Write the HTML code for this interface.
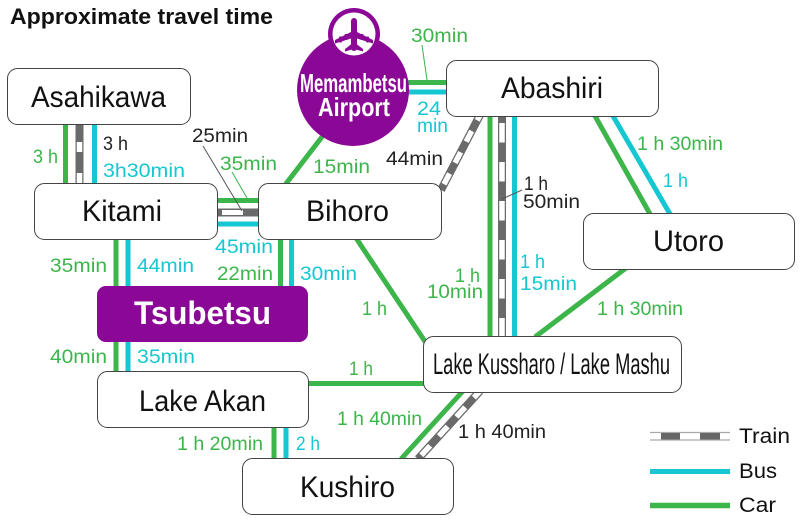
<!DOCTYPE html>
<html><head><meta charset="utf-8"><style>
html,body{margin:0;padding:0;background:#fff;}
svg{display:block;}
text{font-family:"Liberation Sans","DejaVu Sans",sans-serif;}
.l{font-size:19px;}
.g{fill:#3cb54a;}
.c{fill:#14c7d0;}
.k{fill:#222;}
.n{font-size:30px;fill:#111;}
</style></head><body>
<svg width="800" height="520" viewBox="0 0 800 520" xmlns="http://www.w3.org/2000/svg">
<rect width="800" height="520" fill="#fff"/>
<text x="10" y="24" font-size="22" font-weight="bold" fill="#111" textLength="263" lengthAdjust="spacingAndGlyphs">Approximate travel time</text>

<!-- connectors -->
<g fill="none" stroke-linecap="butt">
<!-- Asahikawa-Kitami -->
<line x1="65.5" y1="124" x2="65.5" y2="184" stroke="#3cb54a" stroke-width="5"/>
<line x1="79.5" y1="124" x2="79.5" y2="184" stroke="#6a6a6a" stroke-width="8"/>
<line x1="79.5" y1="124" x2="79.5" y2="184" stroke="#fff" stroke-width="5.5" stroke-dasharray="0 18 10 21 12"/>
<line x1="94.5" y1="124" x2="94.5" y2="184" stroke="#14c7d0" stroke-width="5"/>
<!-- Kitami-Bihoro -->
<line x1="216" y1="200.5" x2="259" y2="200.5" stroke="#3cb54a" stroke-width="5"/>
<line x1="216" y1="212.5" x2="259" y2="212.5" stroke="#6a6a6a" stroke-width="8"/>
<line x1="222" y1="212.5" x2="243" y2="212.5" stroke="#fff" stroke-width="5"/>
<line x1="216" y1="224" x2="259" y2="224" stroke="#14c7d0" stroke-width="5"/>
<!-- Kitami-Tsubetsu-Akan -->
<line x1="116" y1="239" x2="116" y2="372" stroke="#3cb54a" stroke-width="5"/>
<line x1="128" y1="239" x2="128" y2="372" stroke="#14c7d0" stroke-width="5"/>
<!-- Bihoro-Tsubetsu -->
<line x1="280.5" y1="239" x2="280.5" y2="287" stroke="#3cb54a" stroke-width="5"/>
<line x1="291.5" y1="239" x2="291.5" y2="287" stroke="#14c7d0" stroke-width="5"/>
<!-- Akan-Kushiro -->
<line x1="274" y1="427" x2="274" y2="459" stroke="#3cb54a" stroke-width="5"/>
<line x1="286" y1="427" x2="286" y2="459" stroke="#14c7d0" stroke-width="5"/>
<!-- Akan-Kussharo -->
<line x1="308" y1="383.5" x2="424" y2="383.5" stroke="#3cb54a" stroke-width="5"/>
<!-- Bihoro-Kussharo -->
<line x1="356" y1="238" x2="426" y2="343" stroke="#3cb54a" stroke-width="5"/>
<!-- Airport-Bihoro -->
<line x1="325" y1="133" x2="285" y2="185" stroke="#3cb54a" stroke-width="5"/>
<!-- Airport-Abashiri -->
<line x1="400" y1="82.5" x2="447" y2="82.5" stroke="#3cb54a" stroke-width="5"/>
<line x1="400" y1="92" x2="447" y2="92" stroke="#14c7d0" stroke-width="5"/>
<!-- Abashiri-Bihoro train -->
<line x1="480" y1="115" x2="441" y2="190" stroke="#6a6a6a" stroke-width="8"/>
<line x1="480" y1="115" x2="441" y2="190" stroke="#fff" stroke-width="5.5" stroke-dasharray="12 12" stroke-dashoffset="6"/>
<!-- Abashiri-Kussharo -->
<line x1="490" y1="116" x2="490" y2="337" stroke="#3cb54a" stroke-width="5"/>
<line x1="502" y1="116" x2="502" y2="337" stroke="#6a6a6a" stroke-width="8"/>
<line x1="502" y1="116" x2="502" y2="337" stroke="#fff" stroke-width="5.5" stroke-dasharray="19.5 19.5" stroke-dashoffset="-7"/>
<line x1="514.5" y1="116" x2="514.5" y2="337" stroke="#14c7d0" stroke-width="5"/>
<!-- Abashiri-Utoro -->
<line x1="595" y1="116" x2="650" y2="214" stroke="#3cb54a" stroke-width="5"/>
<line x1="613" y1="116" x2="670" y2="214" stroke="#14c7d0" stroke-width="5"/>
<!-- Utoro-Kussharo -->
<line x1="626" y1="268" x2="535" y2="337" stroke="#3cb54a" stroke-width="5"/>
<!-- Kussharo-Kushiro -->
<line x1="463" y1="391" x2="401" y2="459" stroke="#3cb54a" stroke-width="5"/>
<line x1="480" y1="391" x2="418" y2="459" stroke="#6a6a6a" stroke-width="8"/>
<line x1="480" y1="391" x2="418" y2="459" stroke="#fff" stroke-width="5.5" stroke-dasharray="13 13" stroke-dashoffset="4"/>
<!-- leader lines -->
<line x1="203" y1="146" x2="242" y2="211" stroke="#555" stroke-width="1"/>
<line x1="232" y1="172" x2="247" y2="198" stroke="#3cb54a" stroke-width="1"/>
<line x1="422" y1="45" x2="427" y2="80" stroke="#3cb54a" stroke-width="1"/>
<line x1="502" y1="199" x2="522" y2="190" stroke="#555" stroke-width="1"/>
</g>

<!-- airport -->
<circle cx="353" cy="90" r="56" fill="#8b0897"/>
<circle cx="354" cy="34" r="26" fill="#8b0897"/>
<circle cx="354" cy="34" r="21.5" fill="#fff"/>
<g transform="translate(354,35)" fill="#8b0897">
<rect x="-3" y="-17" width="6" height="33" rx="3"/>
<polygon points="-3,-3 -19,5 -19,8.5 -3,3.5"/>
<polygon points="3,-3 19,5 19,8.5 3,3.5"/>
<rect x="-15" y="1.5" width="3" height="6" rx="1"/>
<rect x="-9.5" y="-1" width="3" height="6" rx="1"/>
<rect x="12" y="1.5" width="3" height="6" rx="1"/>
<rect x="6.5" y="-1" width="3" height="6" rx="1"/>
<polygon points="-2.5,9 -9,14 -9,16.5 0,14 9,16.5 9,14 2.5,9"/>
</g>
<text x="300" y="92" font-size="26" font-weight="bold" fill="#fff" textLength="107" lengthAdjust="spacingAndGlyphs">Memambetsu</text>
<text x="318" y="116" font-size="26" font-weight="bold" fill="#fff" textLength="72" lengthAdjust="spacingAndGlyphs">Airport</text>

<!-- nodes -->
<g fill="#fff" stroke="#444" stroke-width="1">
<rect x="7.5" y="68.5" width="183" height="56" rx="10"/>
<rect x="34.5" y="183.5" width="183" height="56" rx="10"/>
<rect x="258.5" y="183.5" width="183" height="56" rx="10"/>
<rect x="446.5" y="60.5" width="212" height="56" rx="10"/>
<rect x="583.5" y="213.5" width="211" height="56" rx="10"/>
<rect x="97.5" y="371.5" width="211" height="56" rx="10"/>
<rect x="242.5" y="458.5" width="211" height="56" rx="10"/>
<rect x="423.5" y="336.5" width="258" height="56" rx="10"/>
</g>
<rect x="97" y="286" width="211" height="56" rx="9" fill="#8b0897"/>

<text class="n" x="31" y="107" textLength="135" lengthAdjust="spacingAndGlyphs">Asahikawa</text>
<text class="n" x="82" y="221" textLength="80" lengthAdjust="spacingAndGlyphs">Kitami</text>
<text class="n" x="306" y="221" textLength="83" lengthAdjust="spacingAndGlyphs">Bihoro</text>
<text class="n" x="501" y="98" textLength="102" lengthAdjust="spacingAndGlyphs">Abashiri</text>
<text class="n" x="653" y="251" textLength="71" lengthAdjust="spacingAndGlyphs">Utoro</text>
<text x="134" y="324" font-size="32" font-weight="bold" fill="#fff" textLength="137" lengthAdjust="spacingAndGlyphs">Tsubetsu</text>
<text class="n" x="139" y="411" textLength="127" lengthAdjust="spacingAndGlyphs">Lake Akan</text>
<text class="n" x="300" y="497" textLength="95" lengthAdjust="spacingAndGlyphs">Kushiro</text>
<text class="n" x="433" y="374" font-size="29" textLength="237" lengthAdjust="spacingAndGlyphs">Lake Kussharo / Lake Mashu</text>

<!-- labels -->
<g class="l">
<text class="k" x="103" y="150" textLength="25" lengthAdjust="spacingAndGlyphs">3 h</text>
<text class="c" x="103" y="177" textLength="82" lengthAdjust="spacingAndGlyphs">3h30min</text>
<text class="g" x="33" y="163" textLength="25" lengthAdjust="spacingAndGlyphs">3 h</text>
<text class="k" x="192" y="142" textLength="56" lengthAdjust="spacingAndGlyphs">25min</text>
<text class="g" x="220" y="170" textLength="57" lengthAdjust="spacingAndGlyphs">35min</text>
<text class="g" x="411" y="42" textLength="57" lengthAdjust="spacingAndGlyphs">30min</text>
<text class="c" x="417" y="115" textLength="24" lengthAdjust="spacingAndGlyphs">24</text>
<text class="c" x="417" y="132" textLength="31" lengthAdjust="spacingAndGlyphs">min</text>
<text class="k" x="386" y="165" textLength="57" lengthAdjust="spacingAndGlyphs">44min</text>
<text class="g" x="313" y="173" textLength="57" lengthAdjust="spacingAndGlyphs">15min</text>
<text class="k" x="524" y="190" textLength="24" lengthAdjust="spacingAndGlyphs">1 h</text>
<text class="k" x="523" y="208" textLength="57" lengthAdjust="spacingAndGlyphs">50min</text>
<text class="c" x="215" y="253" textLength="58" lengthAdjust="spacingAndGlyphs">45min</text>
<text class="g" x="50" y="272" textLength="57" lengthAdjust="spacingAndGlyphs">35min</text>
<text class="c" x="137" y="272" textLength="57" lengthAdjust="spacingAndGlyphs">44min</text>
<text class="g" x="217" y="280" textLength="56" lengthAdjust="spacingAndGlyphs">22min</text>
<text class="c" x="300" y="280" textLength="57" lengthAdjust="spacingAndGlyphs">30min</text>
<text class="g" x="362" y="315" textLength="25" lengthAdjust="spacingAndGlyphs">1 h</text>
<text class="g" x="50" y="363" textLength="57" lengthAdjust="spacingAndGlyphs">40min</text>
<text class="c" x="137" y="363" textLength="58" lengthAdjust="spacingAndGlyphs">35min</text>
<text class="g" x="349" y="375" textLength="24" lengthAdjust="spacingAndGlyphs">1 h</text>
<text class="g" x="637" y="150" textLength="86" lengthAdjust="spacingAndGlyphs">1 h 30min</text>
<text class="c" x="663" y="187" textLength="25" lengthAdjust="spacingAndGlyphs">1 h</text>
<text class="g" x="455" y="282" textLength="25" lengthAdjust="spacingAndGlyphs">1 h</text>
<text class="g" x="427" y="298" textLength="56" lengthAdjust="spacingAndGlyphs">10min</text>
<text class="c" x="520" y="268" textLength="25" lengthAdjust="spacingAndGlyphs">1 h</text>
<text class="c" x="520" y="290" textLength="57" lengthAdjust="spacingAndGlyphs">15min</text>
<text class="g" x="597" y="315" textLength="86" lengthAdjust="spacingAndGlyphs">1 h 30min</text>
<text class="g" x="337" y="425" textLength="85" lengthAdjust="spacingAndGlyphs">1 h 40min</text>
<text class="g" x="177" y="450" textLength="86" lengthAdjust="spacingAndGlyphs">1 h 20min</text>
<text class="c" x="296" y="450" textLength="24" lengthAdjust="spacingAndGlyphs">2 h</text>
<text class="k" x="458" y="438" textLength="88" lengthAdjust="spacingAndGlyphs">1 h 40min</text>
</g>

<!-- legend -->
<line x1="650" y1="432.5" x2="730" y2="432.5" stroke="#aaa" stroke-width="1.2"/>
<line x1="650" y1="440" x2="730" y2="440" stroke="#aaa" stroke-width="1.2"/>
<rect x="661" y="433" width="19" height="6.5" fill="#666"/>
<rect x="700" y="433" width="20" height="6.5" fill="#666"/>
<line x1="650" y1="471.5" x2="730" y2="471.5" stroke="#14c7d0" stroke-width="5"/>
<line x1="650" y1="505.5" x2="730" y2="505.5" stroke="#3cb54a" stroke-width="5.5"/>
<text x="739" y="443" font-size="21" fill="#111" textLength="51" lengthAdjust="spacingAndGlyphs">Train</text>
<text x="739" y="478" font-size="21" fill="#111" textLength="38" lengthAdjust="spacingAndGlyphs">Bus</text>
<text x="739" y="512" font-size="21" fill="#111" textLength="37" lengthAdjust="spacingAndGlyphs">Car</text>
</svg>
</body></html>
